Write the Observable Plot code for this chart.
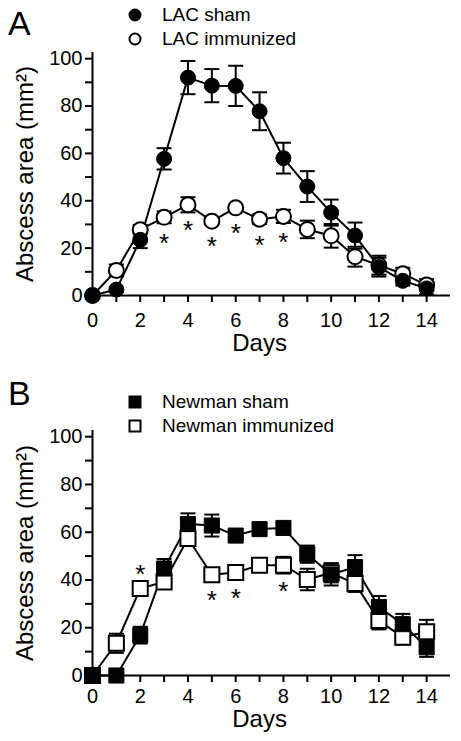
<!DOCTYPE html>
<html>
<head>
<meta charset="utf-8">
<script src="https://cdn.jsdelivr.net/npm/d3@7"></script>
<script src="https://cdn.jsdelivr.net/npm/@observablehq/plot@0.6"></script>
<style>
  html, body { margin: 0; padding: 0; background: #fff; }
  body { font-family: "Liberation Sans", Arial, sans-serif; color: #000; }
  #wrap { position: relative; width: 461px; height: 741px; overflow: hidden; }
  .panel { position: absolute; left: 0; }
  .letter { position: absolute; font-size: 34px; line-height: 1; }
  .legend { position: absolute; left: 124px; font-size: 19px; }
  .legend .row { display: flex; align-items: center; height: 24px; }
  .legend svg { width: 22px; height: 22px; margin-right: 16px; }
</style>
</head>
<body>
<div id="wrap"></div>
<script>
// ---------- data ----------
const days = [0, 1, 2, 3, 4, 5, 6, 7, 8, 9, 10, 11, 12, 13, 14];
const xTicks = [0, 2, 4, 6, 8, 10, 12, 14];
const xMinorTicks = [1, 3, 5, 7, 9, 11, 13];
const yTicks = [0, 20, 40, 60, 80, 100];
const yMinorTicks = [10, 30, 50, 70, 90];

// Panel A: LAC
const lacShamMean = [0, 2.5, 23.5, 57.7, 92, 88.6, 88.5, 77.8, 58, 46, 35, 25.3, 12, 6.2, 3];
const lacShamSem  = [0, 1, 3.5, 4.5, 7, 7, 8.5, 8, 6.5, 6.5, 5.5, 5.5, 4, 2, 2.5];
const lacImmMean  = [0, 10.6, 27.8, 33, 38.3, 31.4, 37, 32.2, 33.4, 27.9, 25.2, 16.4, 12.8, 9.2, 4.4];
const lacImmSem   = [0, 2.5, 2, 2.5, 3.2, 1, 1, 2, 2.8, 3.7, 5, 4.2, 4, 2.5, 2.5];
const lacStarsBelow = [3, 4, 5, 6, 7, 8];
const lacStarsAbove = [];

// Panel B: Newman
const newShamMean = [0, 0, 16.9, 44.8, 63.4, 62.8, 58.6, 61.3, 61.8, 50.8, 42.3, 45.4, 28.7, 21.5, 11.8];
const newShamSem  = [0, 0, 3.5, 4, 4.5, 4.6, 1, 1, 1.5, 3.6, 4.6, 5, 4.6, 4.3, 4];
const newImmMean  = [0, 13.5, 36.4, 39.2, 57.4, 42.2, 43.1, 46.2, 46.2, 40.2, 43, 38.5, 23, 16, 18.3];
const newImmSem   = [0, 4, 3, 2, 2, 1, 1, 1, 3.5, 4.5, 4, 3.5, 3.7, 3, 5];
const newStarsBelow = [5, 6, 8];
const newStarsAbove = [2];

const yLabel = "Abscess area (mm²)";
const xLabel = "Days";

// ---------- drawing ----------
const FONT = '"Liberation Sans", Arial, sans-serif';
const cap = { draw(ctx) { ctx.moveTo(-7.5, 0); ctx.lineTo(7.5, 0); } };

function rows(mean, sem) {
  return days.map((d, i) => ({ day: d, mean: mean[i], sem: sem[i] }));
}

function panel({ sham, imm, symbol, r, starsBelow, starsAbove, height, marginTop, marginBottom, tickPad, daysDy }) {
  const errS = sham.filter(d => d.sem > 0);
  const errI = imm.filter(d => d.sem > 0);
  const starB = imm.filter(d => starsBelow.includes(d.day));
  const starA = imm.filter(d => starsAbove.includes(d.day));
  const errMarks = (data) => [
    Plot.ruleX(data, { x: "day", y1: d => d.mean - d.sem, y2: d => d.mean + d.sem, stroke: "black", strokeWidth: 2 }),
    Plot.dot(data, { x: "day", y: d => d.mean + d.sem, symbol: cap, fill: "none", stroke: "black", strokeWidth: 2 }),
    Plot.dot(data, { x: "day", y: d => Math.max(0, d.mean - d.sem), symbol: cap, fill: "none", stroke: "black", strokeWidth: 2 })
  ];
  return Plot.plot({
    width: 461,
    height,
    marginLeft: 92,
    marginRight: 11,
    marginTop,
    marginBottom,
    style: { fontFamily: FONT, fontSize: "19px", color: "black", background: "white", overflow: "visible" },
    x: { domain: [0, 15] },
    y: { domain: [0, 102.6] },
    marks: [
      ...errMarks(errI),
      ...errMarks(errS),
      Plot.line(imm, { x: "day", y: "mean", stroke: "black", strokeWidth: 2 }),
      Plot.line(sham, { x: "day", y: "mean", stroke: "black", strokeWidth: 2 }),
      Plot.dot(imm, { x: "day", y: "mean", symbol, r, fill: "white", stroke: "black", strokeWidth: 2 }),
      Plot.dot(sham, { x: "day", y: "mean", symbol, r, fill: "black", stroke: "black", strokeWidth: 1 }),
      Plot.text(starB, { x: "day", y: "mean", text: () => "*", fontSize: 26, dy: 26, fill: "black" }),
      Plot.text(starA, { x: "day", y: "mean", text: () => "*", fontSize: 26, dy: -14, fill: "black" }),
      Plot.ruleX([0], { stroke: "black", strokeWidth: 2 }),
      Plot.ruleY([0], { stroke: "black", strokeWidth: 2 }),
      Plot.axisY(yTicks, { tickSize: 7, tickPadding: 3, strokeWidth: 2, label: null, fontSize: 20 }),
      Plot.axisY(yMinorTicks, { tickSize: 7, strokeWidth: 2, tickFormat: () => "", label: null }),
      Plot.axisX(xTicks, { tickSize: 7, tickPadding: tickPad, strokeWidth: 2, label: null, fontSize: 20 }),
      Plot.axisX(xMinorTicks, { tickSize: 7, strokeWidth: 2, tickFormat: () => "", label: null }),
      Plot.text([xLabel], { x: d3.mean(days), frameAnchor: "bottom", dy: daysDy, text: d => d, fontSize: 24, fill: "black" }),
      Plot.text([yLabel], { frameAnchor: "left", textAnchor: "middle", lineAnchor: "middle", rotate: -90, dx: -67, text: d => d, fontSize: 24, fill: "black" })
    ]
  });
}

const wrap = document.getElementById("wrap");

function addPanel(top, plot, letter, legendItems, legendTop) {
  const div = document.createElement("div");
  div.className = "panel";
  div.style.top = top + "px";
  div.appendChild(plot);
  wrap.appendChild(div);

  const L = document.createElement("div");
  L.className = "letter";
  L.style.left = "8px";
  L.style.top = (top + 6) + "px";
  L.textContent = letter;
  wrap.appendChild(L);

  const leg = document.createElement("div");
  leg.className = "legend";
  leg.style.top = (top + legendTop) + "px";
  for (const it of legendItems) {
    const row = document.createElement("div");
    row.className = "row";
    const shape = it.shape === "circle"
      ? `<circle cx="11" cy="11" r="5.5" fill="${it.fill}" stroke="black" stroke-width="2"/>`
      : `<rect x="5.5" y="5.5" width="11" height="11" fill="${it.fill}" stroke="black" stroke-width="2"/>`;
    row.innerHTML = `<svg viewBox="0 0 22 22">${shape}</svg><span>${it.label}</span>`;
    leg.appendChild(row);
  }
  wrap.appendChild(leg);
}

addPanel(0,
  panel({ sham: rows(lacShamMean, lacShamSem), imm: rows(lacImmMean, lacImmSem), symbol: "circle", r: 7.5,
          starsBelow: lacStarsBelow, starsAbove: lacStarsAbove, height: 370, marginTop: 52, marginBottom: 75,
          tickPad: 10, daysDy: 55 }),
  "A",
  [{ shape: "circle", fill: "black", label: "LAC sham" }, { shape: "circle", fill: "white", label: "LAC immunized" }],
  3);

addPanel(370,
  panel({ sham: rows(newShamMean, newShamSem), imm: rows(newImmMean, newImmSem), symbol: "square", r: 8.5,
          starsBelow: newStarsBelow, starsAbove: newStarsAbove, height: 371, marginTop: 60, marginBottom: 66,
          tickPad: 6, daysDy: 51 }),
  "B",
  [{ shape: "square", fill: "black", label: "Newman sham" }, { shape: "square", fill: "white", label: "Newman immunized" }],
  20);
</script>
</body>
</html>
